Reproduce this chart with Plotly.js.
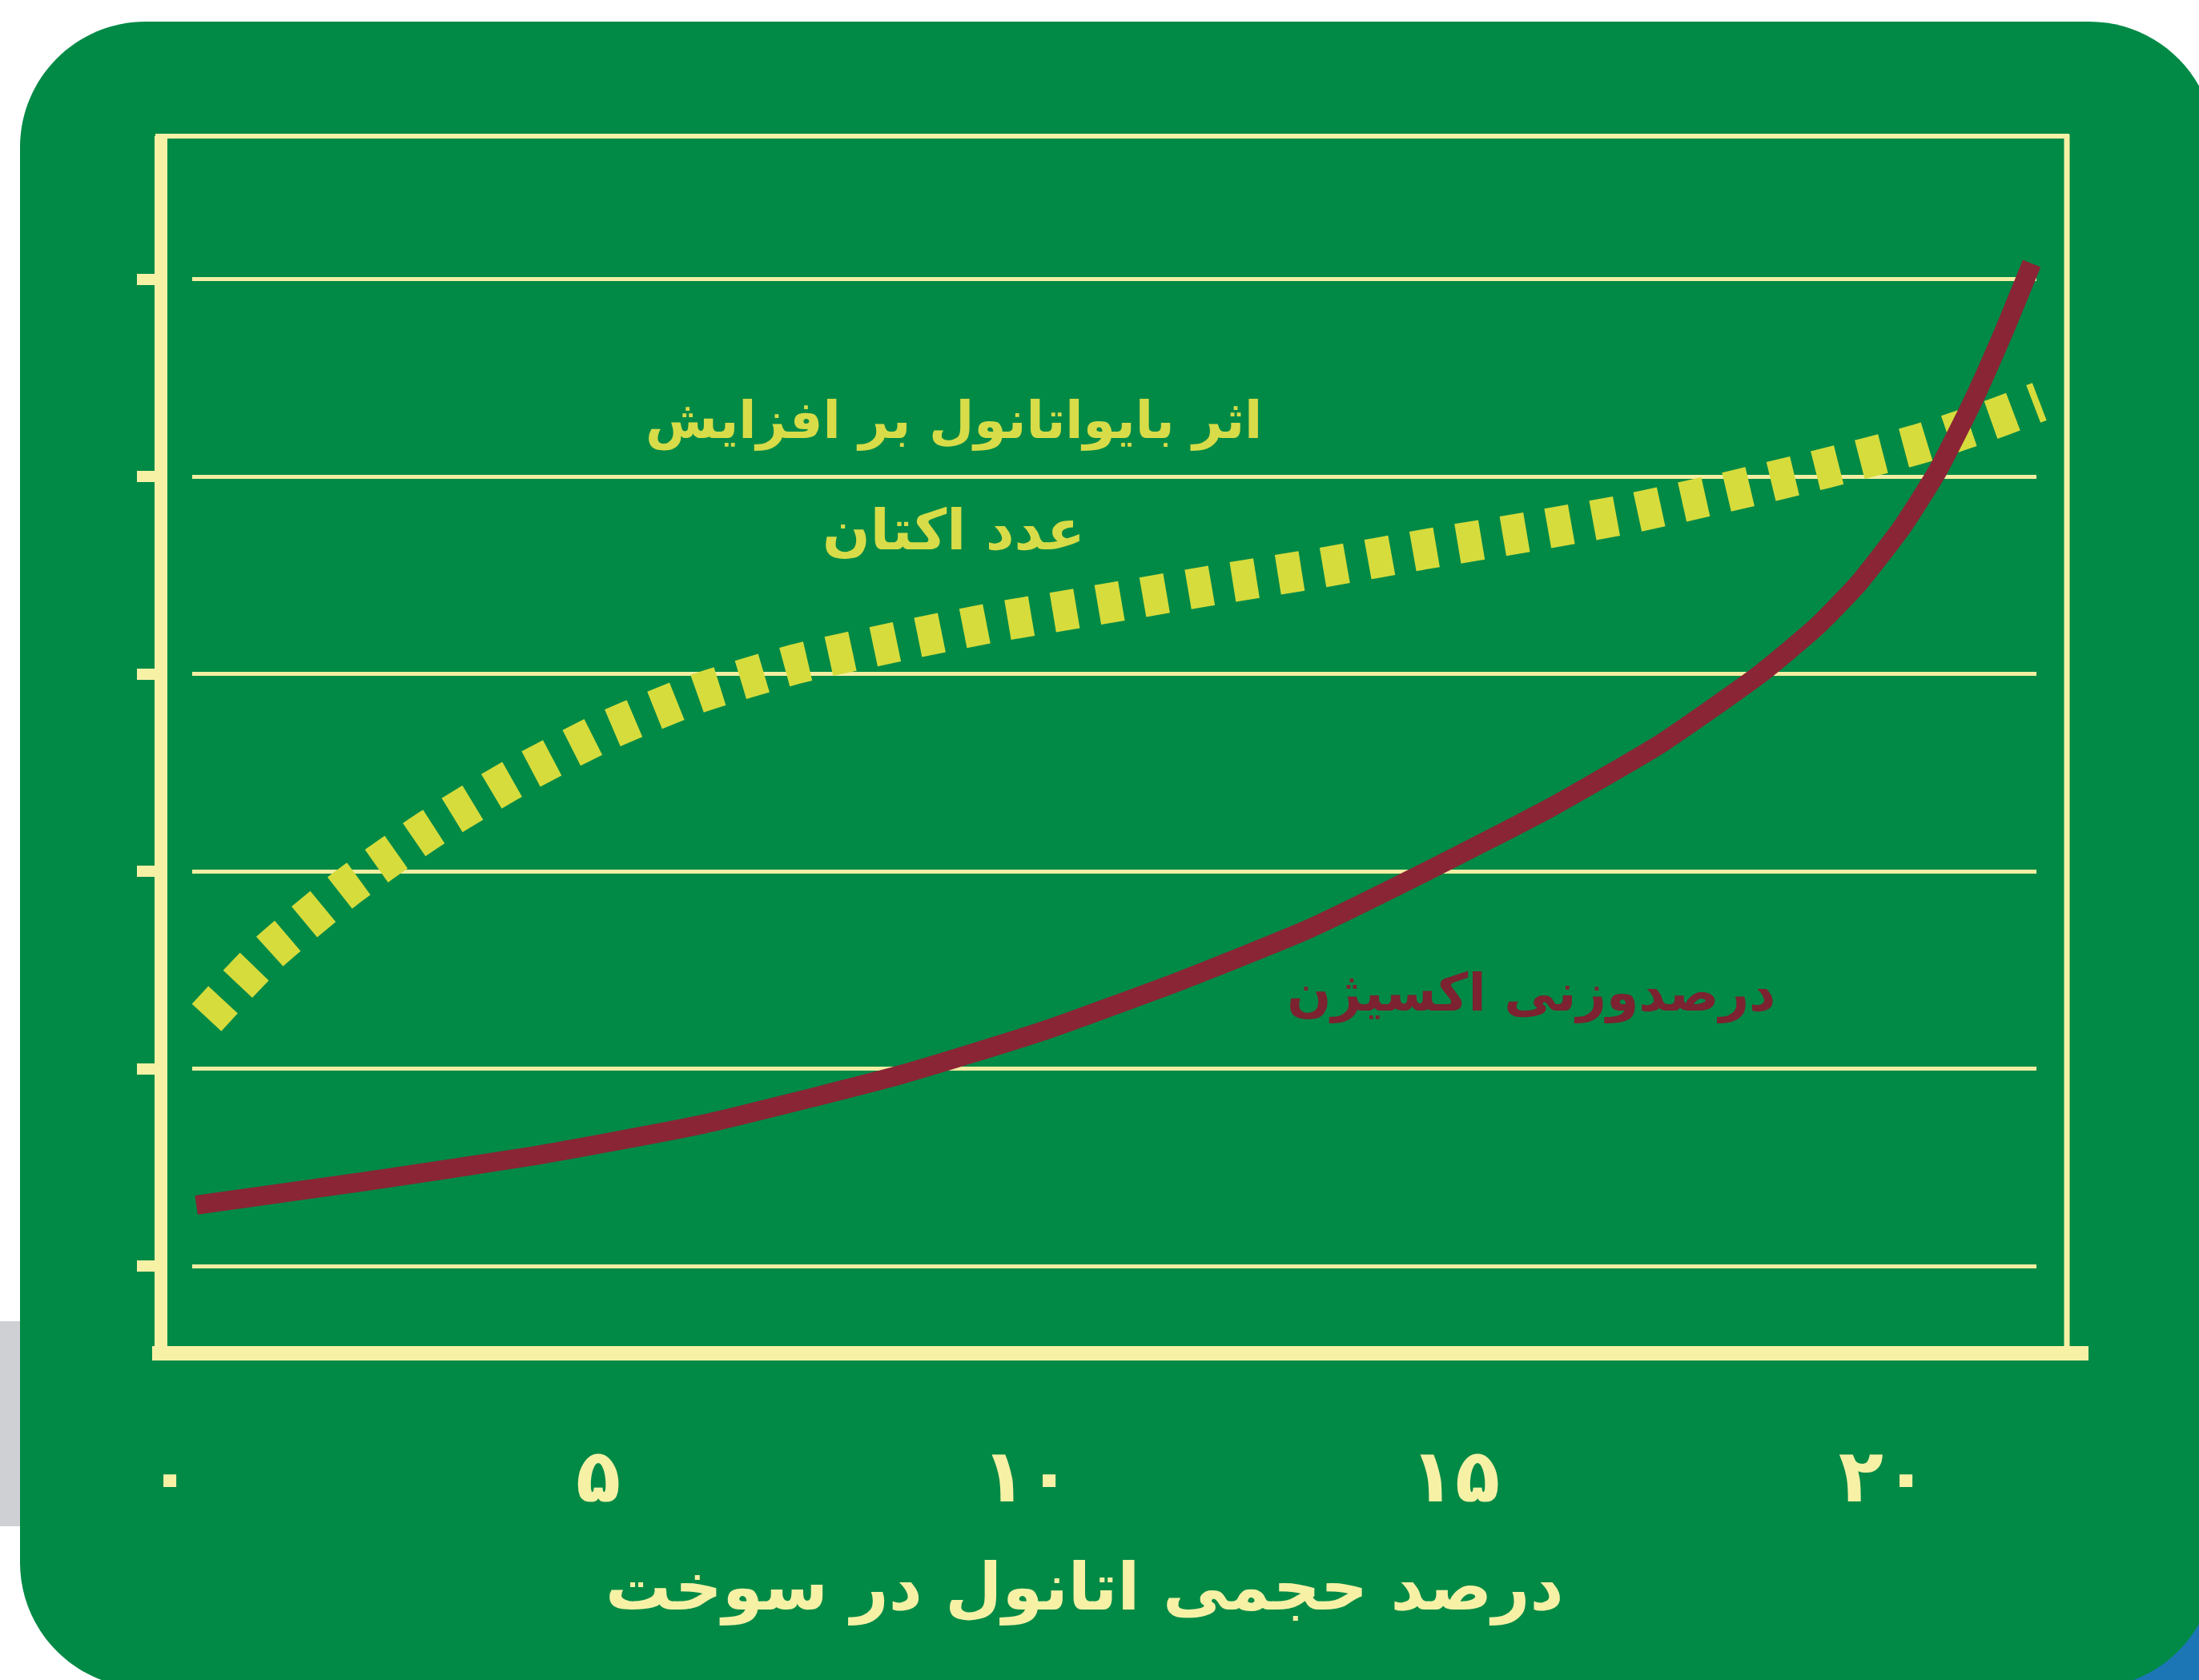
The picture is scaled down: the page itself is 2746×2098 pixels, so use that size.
<!DOCTYPE html>
<html>
<head>
<meta charset="utf-8">
<script src="https://cdn.plot.ly/plotly-3.0.1.min.js"></script>
<style>
html,body{margin:0;padding:0;background:#ffffff;}
#chart{width:2746px;height:2098px;}
</style>
</head>
<body>
<div id="chart"></div>
<script>
// ---- data ----
const xTickVals = [0, 5, 10, 15, 20];
const xTickText = ['۰', '۵', '۱۰', '۱۵', '۲۰'];
const gridVals = [1, 2, 3, 4, 5, 6];

// oxygen weight percent (brown curve)
const oxygenX = [0.31, 2.28, 4.26, 6.23, 8.53, 10.18, 11.82, 13.30, 14.62, 16.10, 17.41, 18.56, 19.22, 19.71, 20.21, 20.62, 21.03, 21.39, 21.73];
const oxygenY = [1.31, 1.43, 1.56, 1.72, 1.97, 2.19, 2.45, 2.71, 2.99, 3.32, 3.65, 4.00, 4.24, 4.46, 4.74, 5.02, 5.37, 5.72, 6.08];

// octane number effect (dashed yellow curve)
const octaneX = [0.43, 1.13, 2.04, 3.02, 4.01, 5.08, 6.15, 7.30, 8.45, 9.60, 10.83, 12.31, 13.46, 14.62, 15.85, 17.00, 18.15, 19.30, 20.45, 21.27, 21.82];
const octaneY = [2.26, 2.58, 2.91, 3.21, 3.47, 3.71, 3.90, 4.05, 4.16, 4.26, 4.35, 4.46, 4.54, 4.63, 4.72, 4.81, 4.92, 5.04, 5.17, 5.29, 5.38];

const octaneLabel1 = 'اثر بایواتانول بر افزایش';
const octaneLabel2 = 'عدد اکتان';
const oxygenLabel = 'درصدوزنی اکسیژن';
const xTitle = 'درصد حجمی اتانول در سوخت';

// ---- layout helpers ----
const W = 2746, H = 2098;
const px = X => X / W;
const py = Y => 1 - Y / H;
const pt = (X, Y) => px(X).toFixed(5) + ',' + py(Y).toFixed(5);

function roundRect(x0, y0, x1, y1, r) {
  const k = 0.5523 * r;
  return 'M' + pt(x0 + r, y0) +
    ' L' + pt(x1 - r, y0) +
    ' C' + pt(x1 - r + k, y0) + ' ' + pt(x1, y0 + r - k) + ' ' + pt(x1, y0 + r) +
    ' L' + pt(x1, y1 - r) +
    ' C' + pt(x1, y1 - r + k) + ' ' + pt(x1 - r + k, y1) + ' ' + pt(x1 - r, y1) +
    ' L' + pt(x0 + r, y1) +
    ' C' + pt(x0 + r - k, y1) + ' ' + pt(x0, y1 - r + k) + ' ' + pt(x0, y1 - r) +
    ' L' + pt(x0, y0 + r) +
    ' C' + pt(x0, y0 + r - k) + ' ' + pt(x0 + r - k, y0) + ' ' + pt(x0 + r, y0) + ' Z';
}

const GREEN = '#008a46';
const CREAM = '#f7f1a6';
const FONT = 'DejaVu Sans';

const traces = [
  { x: [], y: [], xaxis: 'x', yaxis: 'y', type: 'scatter', mode: 'lines', showlegend: false, hoverinfo: 'skip' },
  {
    x: octaneX, y: octaneY, xaxis: 'x2', yaxis: 'y2', type: 'scatter', mode: 'lines',
    line: { color: '#d6dc3c', width: 50, dash: '30px,27px', shape: 'spline', smoothing: 0.6 },
    showlegend: false, hoverinfo: 'skip'
  },
  {
    x: oxygenX, y: oxygenY, xaxis: 'x2', yaxis: 'y2', type: 'scatter', mode: 'lines',
    line: { color: '#8a2535', width: 24, shape: 'spline', smoothing: 0.5 },
    showlegend: false, hoverinfo: 'skip'
  }
];

const yDom = [py(1690), py(170)];
const yRange = [0.559, 6.725];

const layout = {
  width: W, height: H, autosize: false,
  margin: { l: 0, r: 0, t: 0, b: 0, pad: 0 },
  paper_bgcolor: '#ffffff',
  plot_bgcolor: 'rgba(0,0,0,0)',
  showlegend: false,
  hovermode: false,
  font: { family: FONT, color: CREAM },
  // grid-only subplot (gridlines stop short of the frame)
  xaxis: { domain: [px(240), px(2543)], anchor: 'y', range: [0, 1], visible: false, fixedrange: true },
  yaxis: {
    domain: yDom, anchor: 'x', range: yRange, tickmode: 'array', tickvals: gridVals,
    showgrid: true, gridcolor: '#f2eea2', gridwidth: 5, zeroline: false, showline: false,
    showticklabels: false, ticks: '', fixedrange: true
  },
  // data subplot
  xaxis2: {
    domain: [px(209), px(2581)], anchor: 'y2', range: [-0.028, 22.14],
    tickmode: 'array', tickvals: xTickVals, ticktext: xTickText,
    ticks: 'outside', ticklen: 74, tickcolor: 'rgba(0,0,0,0)',
    tickfont: { family: FONT, size: 92, weight: 700, color: CREAM },
    showgrid: false, zeroline: false, showline: false, fixedrange: true
  },
  yaxis2: {
    domain: yDom, anchor: 'x2', range: yRange,
    tickmode: 'array', tickvals: gridVals, ticks: 'outside', ticklen: 22, tickwidth: 14, tickcolor: CREAM,
    showticklabels: false, showgrid: false, zeroline: false,
    showline: true, linecolor: CREAM, linewidth: 16, fixedrange: true
  },
  shapes: [
    // page bits outside the green panel
    { type: 'rect', xref: 'paper', yref: 'paper', x0: px(0), x1: px(30), y0: py(1906), y1: py(1650), fillcolor: '#cfd0d4', line: { width: 0 }, layer: 'below' },
    { type: 'rect', xref: 'paper', yref: 'paper', x0: px(2560), x1: px(2746), y0: py(2098), y1: py(1900), fillcolor: '#1c76b6', line: { width: 0 }, layer: 'below' },
    // green rounded panel
    { type: 'path', xref: 'paper', yref: 'paper', path: roundRect(25, 27, 2766, 2108, 157), fillcolor: GREEN, line: { width: 0 }, layer: 'below' },
    // frame: top, right, bottom axis
    { type: 'line', xref: 'paper', yref: 'paper', x0: px(194), x1: px(2584), y0: py(170), y1: py(170), line: { color: CREAM, width: 6 } },
    { type: 'line', xref: 'paper', yref: 'paper', x0: px(2581), x1: px(2581), y0: py(168), y1: py(1690), line: { color: CREAM, width: 7 } },
    { type: 'line', xref: 'paper', yref: 'paper', x0: px(190), x1: px(2608), y0: py(1690), y1: py(1690), line: { color: CREAM, width: 18 } }
  ],
  annotations: [
    { xref: 'paper', yref: 'paper', x: px(1191), y: py(525), text: octaneLabel1, showarrow: false, xanchor: 'center', yanchor: 'middle', font: { family: FONT, size: 65, weight: 700, color: '#d8dc48' } },
    { xref: 'paper', yref: 'paper', x: px(1191), y: py(662), text: octaneLabel2, showarrow: false, xanchor: 'center', yanchor: 'middle', font: { family: FONT, size: 70, weight: 700, color: '#d8dc48' } },
    { xref: 'paper', yref: 'paper', x: px(1912), y: py(1240), text: oxygenLabel, showarrow: false, xanchor: 'center', yanchor: 'middle', font: { family: FONT, size: 65, weight: 700, color: '#7c2230' } },
    // x-axis title
    { xref: 'paper', yref: 'paper', x: px(1354), y: py(1982), text: xTitle, showarrow: false, xanchor: 'center', yanchor: 'middle', font: { family: FONT, size: 82, weight: 700, color: CREAM } }
  ]
};

Plotly.newPlot('chart', traces, layout, { displayModeBar: false, staticPlot: true });
</script>
</body>
</html>
